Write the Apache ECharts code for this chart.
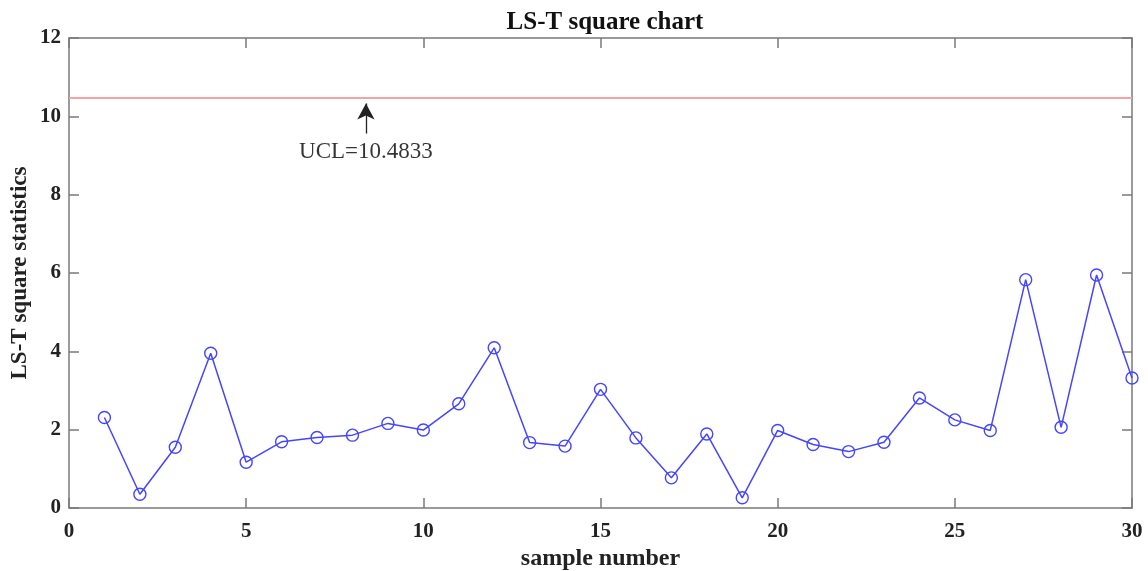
<!DOCTYPE html>
<html>
<head>
<meta charset="utf-8">
<script src="https://cdn.jsdelivr.net/npm/echarts@6/dist/echarts.min.js"></script>
<style>
  html, body { margin: 0; padding: 0; background: #fff; }
  #chart { width: 1148px; height: 571px; }
</style>
</head>
<body>
<div id="chart"></div>
<script>
// Sample index and LS-T square statistic per sample
const sampleNumbers = [1, 2, 3, 4, 5, 6, 7, 8, 9, 10, 11, 12, 13, 14, 15,
                       16, 17, 18, 19, 20, 21, 22, 23, 24, 25, 26, 27, 28, 29, 30];
const statistics = [2.31, 0.35, 1.55, 3.95, 1.17, 1.69, 1.80, 1.86, 2.16, 1.99,
                    2.66, 4.09, 1.67, 1.58, 3.03, 1.79, 0.77, 1.89, 0.26, 1.98,
                    1.62, 1.44, 1.68, 2.81, 2.25, 1.98, 5.83, 2.06, 5.95, 3.32];
// Upper control limit
const UCL = 10.4833;
// Annotation arrow: x position, tail and head (in data units), text anchor
const arrowX = 8.38;
const arrowTail = 9.56;
const arrowHead = 10.33;
const labelY = 9.08;

const xTicks = { min: 0, max: 30, interval: 5 };
const yTicks = { min: 0, max: 12, interval: 2 };

const serif = '"Liberation Serif", "Times New Roman", serif';
const axisGray = '#7a7a7a';
const blue = '#4545ff';

const points = sampleNumbers.map((x, i) => [x, statistics[i]]);

const tickLabel = { fontFamily: serif, fontWeight: 'bold', fontSize: 21, color: '#222' };

function frameAxis(position, showLabel, margin) {
  return {
    type: 'value',
    position: position,
    axisLine: { show: true, onZero: false, lineStyle: { color: axisGray, width: 1.5 } },
    axisTick: { show: true, inside: true, length: 10, lineStyle: { color: axisGray, width: 1.5 } },
    splitLine: { show: false },
    axisLabel: showLabel ? Object.assign({ margin: margin }, tickLabel) : { show: false }
  };
}

const chart = echarts.init(document.getElementById('chart'), null, { renderer: 'canvas' });

chart.setOption({
  backgroundColor: '#ffffff',
  animation: false,
  title: {
    text: 'LS-T square chart',
    left: 600,
    textAlign: 'center',
    top: 5,
    textStyle: { fontFamily: serif, fontWeight: 'bold', fontSize: 25, color: '#111' }
  },
  grid: { left: 69, right: 16, top: 38, bottom: 63, containLabel: false, outerBoundsMode: 'none' },
  xAxis: [
    Object.assign(frameAxis('bottom', true, 13), xTicks, {
      name: 'sample number',
      nameLocation: 'middle',
      nameGap: 31,
      nameTextStyle: { fontFamily: serif, fontWeight: 'bold', fontSize: 24, color: '#222' }
    }),
    Object.assign(frameAxis('top', false, 0), xTicks)
  ],
  yAxis: [
    Object.assign(frameAxis('left', true, 8), yTicks, {
      name: 'LS-T square statistics',
      nameLocation: 'middle',
      nameGap: 37,
      nameMoveOverlap: false,
      nameTextStyle: { fontFamily: serif, fontWeight: 'bold', fontSize: 23, color: '#222' }
    }),
    Object.assign(frameAxis('right', false, 0), yTicks)
  ],
  series: [
    {
      name: 'LS-T square',
      type: 'line',
      xAxisIndex: 0,
      yAxisIndex: 0,
      data: points,
      symbol: 'circle',
      symbolSize: 12,
      showAllSymbol: true,
      itemStyle: { color: 'rgba(0,0,0,0)', borderColor: blue, borderWidth: 1.4 },
      lineStyle: { color: blue, width: 1.5 },
      z: 3,
      markLine: {
        silent: true,
        symbol: 'none',
        animation: false,
        label: { show: false },
        lineStyle: { color: '#f7a0a6', width: 2, type: 'solid' },
        data: [{ yAxis: UCL }]
      }
    },
    {
      name: 'UCL note',
      type: 'scatter',
      xAxisIndex: 0,
      yAxisIndex: 0,
      data: [[arrowX, labelY]],
      symbolSize: 0,
      label: {
        show: true,
        position: 'inside',
        formatter: () => 'UCL=' + UCL,
        fontFamily: serif,
        fontSize: 23,
        color: '#000',
        textBorderWidth: 0
      },
      markLine: {
        silent: true,
        animation: false,
        symbol: ['none', 'arrow'],
        symbolSize: [13, 16],
        label: { show: false },
        lineStyle: { color: '#222', width: 1.3, type: 'solid' },
        data: [[{ coord: [arrowX, arrowTail] }, { coord: [arrowX, arrowHead] }]]
      }
    }
  ]
});
</script>
</body>
</html>
